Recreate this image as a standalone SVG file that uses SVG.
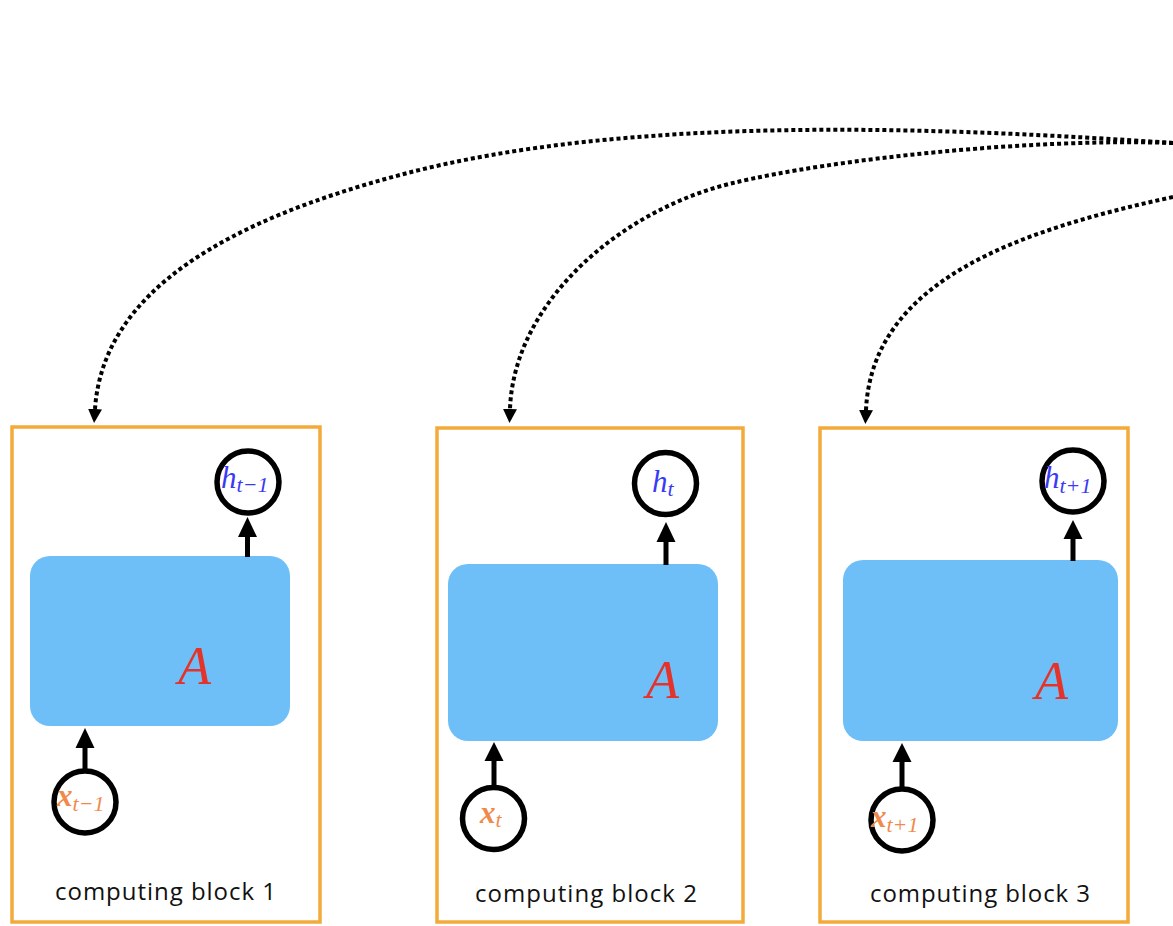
<svg xmlns="http://www.w3.org/2000/svg" width="1173" height="926" viewBox="0 0 1173 926">
<style>
.frame{fill:#fff;stroke:#f4aa3a;stroke-width:3.5}
.cell{fill:#6ebff7}
.node{fill:#fff;stroke:#000;stroke-width:5.5}
.dot{fill:none;stroke:#000;stroke-width:4;stroke-dasharray:4 3;marker-end:url(#ah)}
.shaft{stroke:#000;stroke-width:5;fill:none}
.head{fill:#000}
.cap{font-family:"Open Sans","Noto Sans",sans-serif;font-size:24px;fill:#111;text-anchor:middle}
.A{font-family:"Liberation Serif","DejaVu Serif",serif;font-style:italic;font-size:54px;fill:#e4332b}
.h{font-family:"Liberation Serif","DejaVu Serif",serif;font-style:italic;font-size:31px;fill:#3a3af5}
.x{font-family:"Liberation Serif","DejaVu Serif",serif;font-style:italic;font-weight:bold;font-size:31px;fill:#f08a4b}
.sub{font-size:22px;font-weight:normal}
</style>
<defs>
<marker id="ah" viewBox="0 0 14 14" markerWidth="14" markerHeight="14" refX="0" refY="7" orient="auto" markerUnits="userSpaceOnUse">
<path d="M0,0 L14,7 L0,14 Z" fill="#000"/>
</marker>
</defs>
<rect width="1173" height="926" fill="#fff"/>

<g id="block1">
<rect class="frame" x="12" y="427" width="308" height="495"/>
<rect class="cell" x="30" y="556" width="260" height="170" rx="20"/>
<text class="A" x="178" y="684">A</text>
<circle class="node" cx="248" cy="482" r="31"/>
<text class="h" x="221" y="488">h<tspan class="sub" dy="4">t−1</tspan></text>
<circle class="node" cx="85" cy="802" r="31"/>
<text class="x" x="57" y="806">x<tspan class="sub" dy="5">t−1</tspan></text>
<text class="cap" x="165.5" y="900" textLength="221">computing block 1</text>
</g>

<g id="block2">
<rect class="frame" x="437" y="428" width="306" height="494"/>
<rect class="cell" x="448" y="564" width="270" height="177" rx="20"/>
<text class="A" x="646" y="698">A</text>
<circle class="node" cx="665.5" cy="483.5" r="31"/>
<text class="h" x="652" y="492">h<tspan class="sub" dy="4">t</tspan></text>
<circle class="node" cx="493.5" cy="818.5" r="31"/>
<text class="x" x="480" y="823">x<tspan class="sub" dy="4">t</tspan></text>
<text class="cap" x="586" y="902" textLength="222">computing block 2</text>
</g>

<g id="block3">
<rect class="frame" x="820" y="428" width="308" height="494"/>
<rect class="cell" x="843" y="560" width="275" height="181" rx="20"/>
<text class="A" x="1035" y="699">A</text>
<circle class="node" cx="1073" cy="481" r="31"/>
<text class="h" x="1044" y="488">h<tspan class="sub" dy="5">t+1</tspan></text>
<circle class="node" cx="902" cy="820" r="31"/>
<text class="x" x="871" y="827">x<tspan class="sub" dy="5">t+1</tspan></text>
<text class="cap" x="980" y="902" textLength="220">computing block 3</text>
</g>

<g id="connectors">
<path class="dot" d="M1173,143 C950,128 630,113 400,175 C230,220 103,290 95,409"/>
<path class="dot" d="M1173,143 C1030,138 833,159 733,183 C623,209 514,300 510,409"/>
<path class="dot" d="M1173,197 C1020,230 872,280 866,410"/>

<line class="shaft" x1="247.5" y1="557" x2="247.5" y2="534"/>
<path class="head" d="M238,537 L247.5,517 L257,537 Z"/>
<line class="shaft" x1="85" y1="769" x2="85" y2="745"/>
<path class="head" d="M75.5,748 L85,728 L94.5,748 Z"/>

<line class="shaft" x1="666" y1="565" x2="666" y2="539"/>
<path class="head" d="M656.5,542 L666,522 L675.5,542 Z"/>
<line class="shaft" x1="494" y1="785" x2="494" y2="758"/>
<path class="head" d="M484.5,761 L494,742 L503.5,761 Z"/>

<line class="shaft" x1="1073" y1="561" x2="1073" y2="536"/>
<path class="head" d="M1063.5,539 L1073,520 L1082.5,539 Z"/>
<line class="shaft" x1="902" y1="787" x2="902" y2="759"/>
<path class="head" d="M892.5,762 L902,743 L911.5,762 Z"/>
</g>
</svg>
